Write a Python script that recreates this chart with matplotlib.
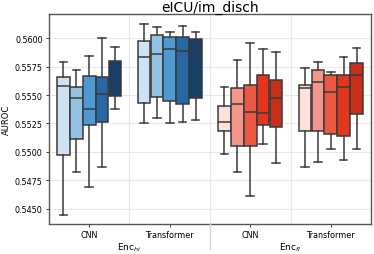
import numpy as np
import matplotlib
matplotlib.use('Agg')
import matplotlib.pyplot as plt
import matplotlib.transforms as mtransforms
from matplotlib.lines import Line2D

title = 'eICU/im_disch'
groups = ['CNN', 'Transformer', 'CNN', 'Transformer']
enc_labels = [r'Enc$_{hi}$', r'Enc$_{fl}$']

# five boxes per group: (whislo, q1, med, q3, whishi)
whislo = [
    [0.5445, 0.5482, 0.5469, 0.5487, 0.5538],
    [0.5525, 0.5530, 0.5525, 0.5526, 0.5528],
    [0.5498, 0.5482, 0.5461, 0.5507, 0.5490],
    [0.5487, 0.5491, 0.5503, 0.5493, 0.5503],
]
q1 = [
    [0.5497, 0.5511, 0.5524, 0.5526, 0.5549],
    [0.5543, 0.5548, 0.5545, 0.5542, 0.5547],
    [0.5518, 0.5505, 0.5505, 0.5524, 0.5522],
    [0.5518, 0.5518, 0.5516, 0.5514, 0.5533],
]
med = [
    [0.5558, 0.5547, 0.5538, 0.5551, 0.5556],
    [0.5583, 0.5586, 0.5590, 0.5589, 0.5588],
    [0.5526, 0.5542, 0.5535, 0.5534, 0.5547],
    [0.5556, 0.5561, 0.5553, 0.5557, 0.5568],
]
q3 = [
    [0.5566, 0.5557, 0.5567, 0.5566, 0.5580],
    [0.5597, 0.5603, 0.5601, 0.5601, 0.5599],
    [0.5540, 0.5556, 0.5559, 0.5568, 0.5563],
    [0.5559, 0.5572, 0.5568, 0.5568, 0.5578],
]
whishi = [
    [0.5579, 0.5572, 0.5584, 0.5600, 0.5592],
    [0.5612, 0.5610, 0.5605, 0.5611, 0.5605],
    [0.5557, 0.5581, 0.5596, 0.5590, 0.5588],
    [0.5574, 0.5579, 0.5570, 0.5583, 0.5591],
]

blues = ['#cfe2f3', '#93c2e3', '#4d9ad3', '#2767a3', '#183f66']
reds = ['#fde0dc', '#f4978a', '#ec5943', '#e2351d', '#c6301b']
palettes = [blues, blues, reds, reds]

edge = '#3a3a3a'
fig = plt.figure(figsize=(3.74, 2.55), dpi=100)
ax = fig.add_axes([0.131, 0.118, 0.861, 0.823])

bw = 0.156
for g in range(len(groups)):
    for i in range(5):
        stats = [dict(med=med[g][i], q1=q1[g][i], q3=q3[g][i],
                      whislo=whislo[g][i], whishi=whishi[g][i], fliers=[])]
        pos = g + (i - 2) * 0.16
        ax.bxp(stats, positions=[pos], widths=bw, capwidths=bw * 0.6,
               patch_artist=True, showfliers=False, manage_ticks=False,
               boxprops=dict(facecolor=palettes[g][i], edgecolor=edge, linewidth=1.1),
               medianprops=dict(color=edge, linewidth=1.1),
               whiskerprops=dict(color=edge, linewidth=1.1),
               capprops=dict(color=edge, linewidth=1.1))

ax.set_xlim(-0.5, 3.5)
ax.set_ylim(0.54368, 0.56211)
yt = [0.5450, 0.5475, 0.5500, 0.5525, 0.5550, 0.5575, 0.5600]
ax.set_yticks(yt)
ax.set_yticklabels(['%.4f' % v for v in yt], fontsize=5.8)
ax.set_xticks(range(len(groups)))
ax.set_xticklabels(groups, fontsize=5.8)
ax.tick_params(length=2.5, width=0.7, color=edge, pad=2)
ax.set_ylabel('AUROC', fontsize=6, labelpad=3)
ax.set_title(title, fontsize=10, pad=1.5)

ax.set_axisbelow(True)
ax.grid(axis='y', color='#e8e8e8', linewidth=0.8)
for x in [0.5, 1.5, 2.5]:
    ax.axvline(x, color='#e8e8e8', linewidth=0.8, zorder=0)
for s in ax.spines.values():
    s.set_color('#555555')
    s.set_linewidth(1.0)

# group labels and separator below the axes
trans = mtransforms.blended_transform_factory(ax.transData, fig.transFigure)
for k, lab in enumerate(enc_labels):
    ax.text(0.5 + 2 * k, 0.03, lab, transform=trans, ha='center', va='center', fontsize=6.5)
sep = Line2D([1.5, 1.5], [0.02, 0.118], transform=trans, color='#d5d5d5', linewidth=1.0)
fig.add_artist(sep)

fig.savefig('out.png', dpi=100)
